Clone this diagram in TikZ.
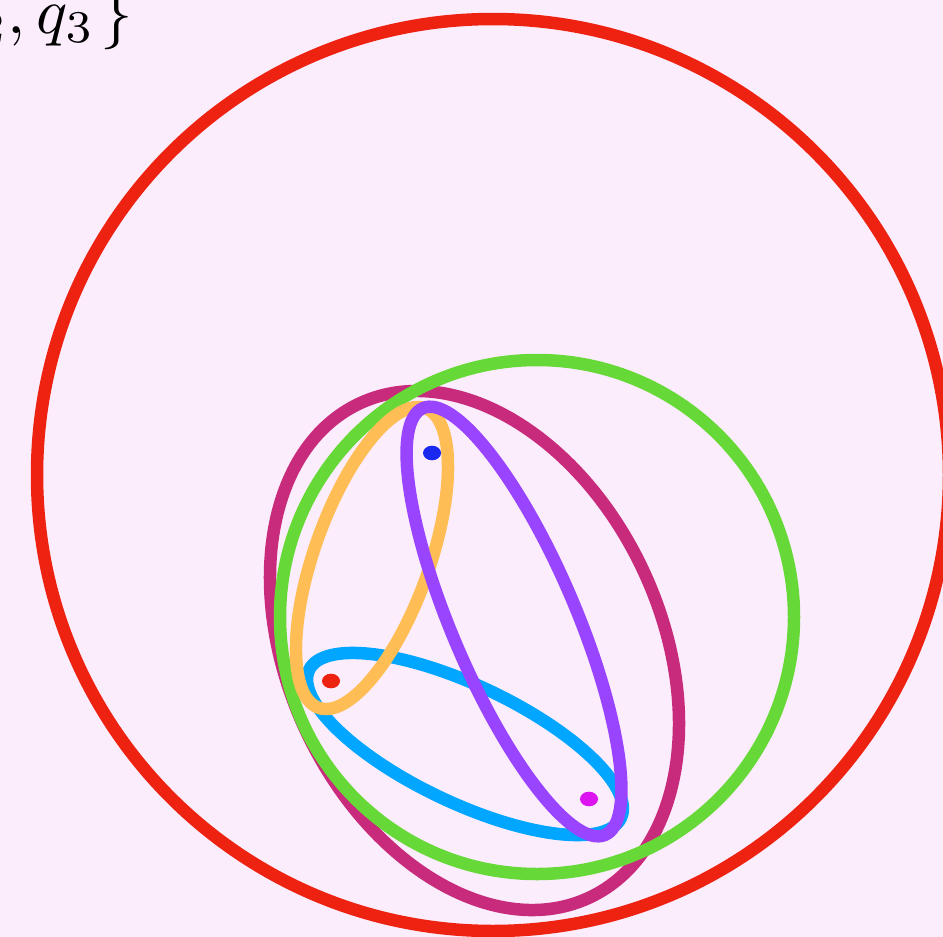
\documentclass[tikz,border=0pt]{standalone}
\definecolor{bgpink}{HTML}{FCEDFC}
\definecolor{cred}{HTML}{EE2211}
\definecolor{cgreen}{HTML}{66D938}
\definecolor{cmag}{HTML}{C82A7C}
\definecolor{corange}{HTML}{FFBE55}
\definecolor{cpurple}{HTML}{9944FF}
\definecolor{cblue}{HTML}{00A6FF}
\definecolor{dblue}{HTML}{1A28F0}
\definecolor{dmag}{HTML}{DC14F0}
\tikzset{edgeline/.style={line width=12.5pt}}
\begin{document}
\begin{tikzpicture}[x=1pt,y=-1pt]
\useasboundingbox (0,0) rectangle (943,937);
\clip (0,0) rectangle (943,937);
\fill[bgpink] (0,0) rectangle (943,937);
% outer red circle
\draw[edgeline,cred] (493,475) circle [radius=456];
% magenta ellipse (three points)
\draw[edgeline,cmag,rotate around={-65.2:(474.5,650.5)}] (474.5,650.5) ellipse [x radius=272.5, y radius=186.8];
% green circle
\draw[edgeline,cgreen] (537,617) circle [radius=257];
% blue ellipse
\draw[edgeline,cblue,rotate around={-25.4:(465,744)}] (465,744) ellipse [x radius=172.6, y radius=58.7];
% orange ellipse
\draw[edgeline,corange,rotate around={70.4:(372,558)}] (372,558) ellipse [x radius=159, y radius=57.5];
% purple ellipse
\draw[edgeline,cpurple,rotate around={113.1:(514,621.5)}] (514,621.5) ellipse [x radius=232, y radius=62];
% points
\fill[dblue] (432,453) ellipse [x radius=9, y radius=7.3];
\fill[cred] (331,681) ellipse [x radius=9, y radius=7.3];
\fill[dmag] (589,799) ellipse [x radius=9, y radius=7.3];
% label
\node[anchor=base east, inner sep=0pt, scale=6.5] (lbl) at (134,33) {$\{q_1, q_2, q_3\mskip1.5mu\}$};
\end{tikzpicture}
\end{document}
